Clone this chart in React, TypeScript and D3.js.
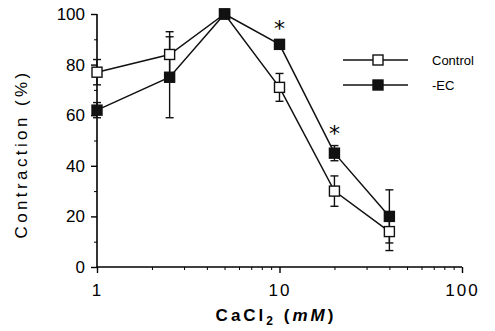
import * as d3 from 'd3';
import { useEffect, useRef } from 'react';

// concentration of CaCl2 (mM)
const conc = [1, 2.5, 5, 10, 20, 40];
const controlMean = [77, 84, 100, 71, 30, 14];
const controlErr = [5, 9, 0, 5.5, 6, 7.5];
const ecMean = [62, 75, 100, 88, 45, 20];
const ecErr = [3, 16, 0, 1.5, 3, 10.5];
const starAt = [10, 20];
const yTicks = [0, 20, 40, 60, 80, 100];
const xTicks = [1, 10, 100];

const App = () => {
    const ref = useRef<SVGSVGElement>(null);

    useEffect(() => {
        const svg = d3.select(ref.current);
        svg.selectAll('*').remove();
        const font = 'Liberation Sans, Arial, sans-serif';

        const x = d3.scaleLog().domain([1, 100]).range([97, 462]);
        const y = d3.scaleLinear().domain([0, 100]).range([267, 14]);

        const g = svg.append('g');

        // axes
        const yAxis = g.append('g').attr('transform', 'translate(97,0)')
            .call(d3.axisLeft(y).tickValues(yTicks).tickSize(6).tickFormat((d: any) => String(d)));
        yAxis.select('.domain').attr('d', 'M0,' + y(100) + 'V' + y(0)).attr('stroke-width', 1.6);
        yAxis.selectAll('line').attr('stroke-width', 1.4);
        yAxis.selectAll('text').attr('font-family', font).attr('font-size', 17).attr('dx', -3);
        g.append('g').attr('transform', 'translate(97,0)')
            .call(d3.axisLeft(y).tickValues([10, 30, 50, 70, 90]).tickSize(3).tickFormat(() => ''))
            .call((s: any) => s.select('.domain').remove());

        const minor: number[] = [];
        for (const dec of [1, 10]) for (let k = 2; k <= 9; k++) minor.push(dec * k);
        const xAxis = g.append('g').attr('transform', 'translate(0,267)')
            .call(d3.axisBottom(x).tickValues(xTicks).tickSize(6).tickFormat((d: any) => String(d)));
        xAxis.select('.domain').attr('d', 'M' + x(1) + ',0H' + x(100)).attr('stroke-width', 1.6);
        xAxis.selectAll('line').attr('stroke-width', 1.4);
        xAxis.selectAll('text').attr('font-family', font).attr('font-size', 17)
            .attr('letter-spacing', 2).attr('dy', '1.2em');
        g.append('g').attr('transform', 'translate(0,267)')
            .call(d3.axisBottom(x).tickValues(minor).tickSize(3).tickFormat(() => ''))
            .call((s: any) => s.select('.domain').remove());

        // axis titles
        svg.append('text')
            .attr('transform', 'translate(27,' + 154 + ') rotate(-90)')
            .attr('text-anchor', 'middle')
            .attr('font-family', font).attr('font-size', 17).attr('letter-spacing', 3.4)
            .text('Contraction   (%)');
        const xt = svg.append('text')
            .attr('x', 276).attr('y', 321)
            .attr('text-anchor', 'middle')
            .attr('font-family', font).attr('font-size', 17).attr('font-weight', 'bold')
            .attr('letter-spacing', 3);
        xt.append('tspan').text('CaCl');
        xt.append('tspan').attr('font-size', 12).attr('dy', 4).text('2');
        xt.append('tspan').attr('dy', -4).text(' (');
        xt.append('tspan').attr('font-style', 'italic').text('mM');
        xt.append('tspan').text(')');

        const line = d3.line<number>()
            .x((d: number, i: number) => x(conc[i]))
            .y((d: number) => y(d));

        const series = [
            { mean: controlMean, err: controlErr, fill: '#fff' },
            { mean: ecMean, err: ecErr, fill: '#111' }
        ];

        series.forEach((s) => {
            g.append('path')
                .attr('d', line(s.mean))
                .attr('fill', 'none')
                .attr('stroke', '#111')
                .attr('stroke-width', 1.5);
        });

        series.forEach((s) => {
            const eb = g.append('g');
            s.mean.forEach((m, i) => {
                if (!s.err[i]) return;
                const cx = x(conc[i]);
                const top = y(m + s.err[i]);
                const bot = y(m - s.err[i]);
                eb.append('line').attr('x1', cx).attr('x2', cx).attr('y1', top).attr('y2', bot)
                    .attr('stroke', '#111').attr('stroke-width', 1.4);
                [top, bot].forEach((yy) => {
                    eb.append('line').attr('x1', cx - 4).attr('x2', cx + 4).attr('y1', yy).attr('y2', yy)
                        .attr('stroke', '#111').attr('stroke-width', 1.4);
                });
            });
        });

        series.forEach((s) => {
            g.selectAll(null)
                .data(s.mean)
                .enter()
                .append('rect')
                .attr('x', (d: number, i: number) => x(conc[i]) - 5)
                .attr('y', (d: number) => y(d) - 5)
                .attr('width', 10)
                .attr('height', 10)
                .attr('fill', s.fill)
                .attr('stroke', '#111')
                .attr('stroke-width', 1.4);
        });

        // significance marks
        starAt.forEach((c) => {
            const i = conc.indexOf(c);
            g.append('text')
                .attr('x', x(c))
                .attr('y', y(ecMean[i] + ecErr[i]) - 5)
                .attr('text-anchor', 'middle')
                .attr('font-family', 'DejaVu Sans, sans-serif').attr('font-size', 22)
                .text('*');
        });

        // legend
        const legend = svg.append('g');
        const items = [
            { label: 'Control', fill: '#fff' },
            { label: '-EC', fill: '#111' }
        ];
        const lg = legend.selectAll('.legend')
            .data(items)
            .enter().append('g')
            .attr('transform', (d: any, i: number) => 'translate(343,' + (60 + i * 25) + ')');
        lg.append('line').attr('x1', 0).attr('x2', 65).attr('y1', 0).attr('y2', 0)
            .attr('stroke', '#111').attr('stroke-width', 1.5);
        lg.append('rect').attr('x', 30).attr('y', -5).attr('width', 10).attr('height', 10)
            .attr('fill', (d: any) => d.fill).attr('stroke', '#111').attr('stroke-width', 1.4);
        lg.append('text').attr('x', 89).attr('y', 5)
            .attr('font-family', font).attr('font-size', 13)
            .text((d: any) => d.label);
    }, []);

    return (
        <svg ref={ref} width={495} height={331}
            style={{ position: 'absolute', left: 0, top: 0, background: '#fff' }} />
    );
};

export default App;
